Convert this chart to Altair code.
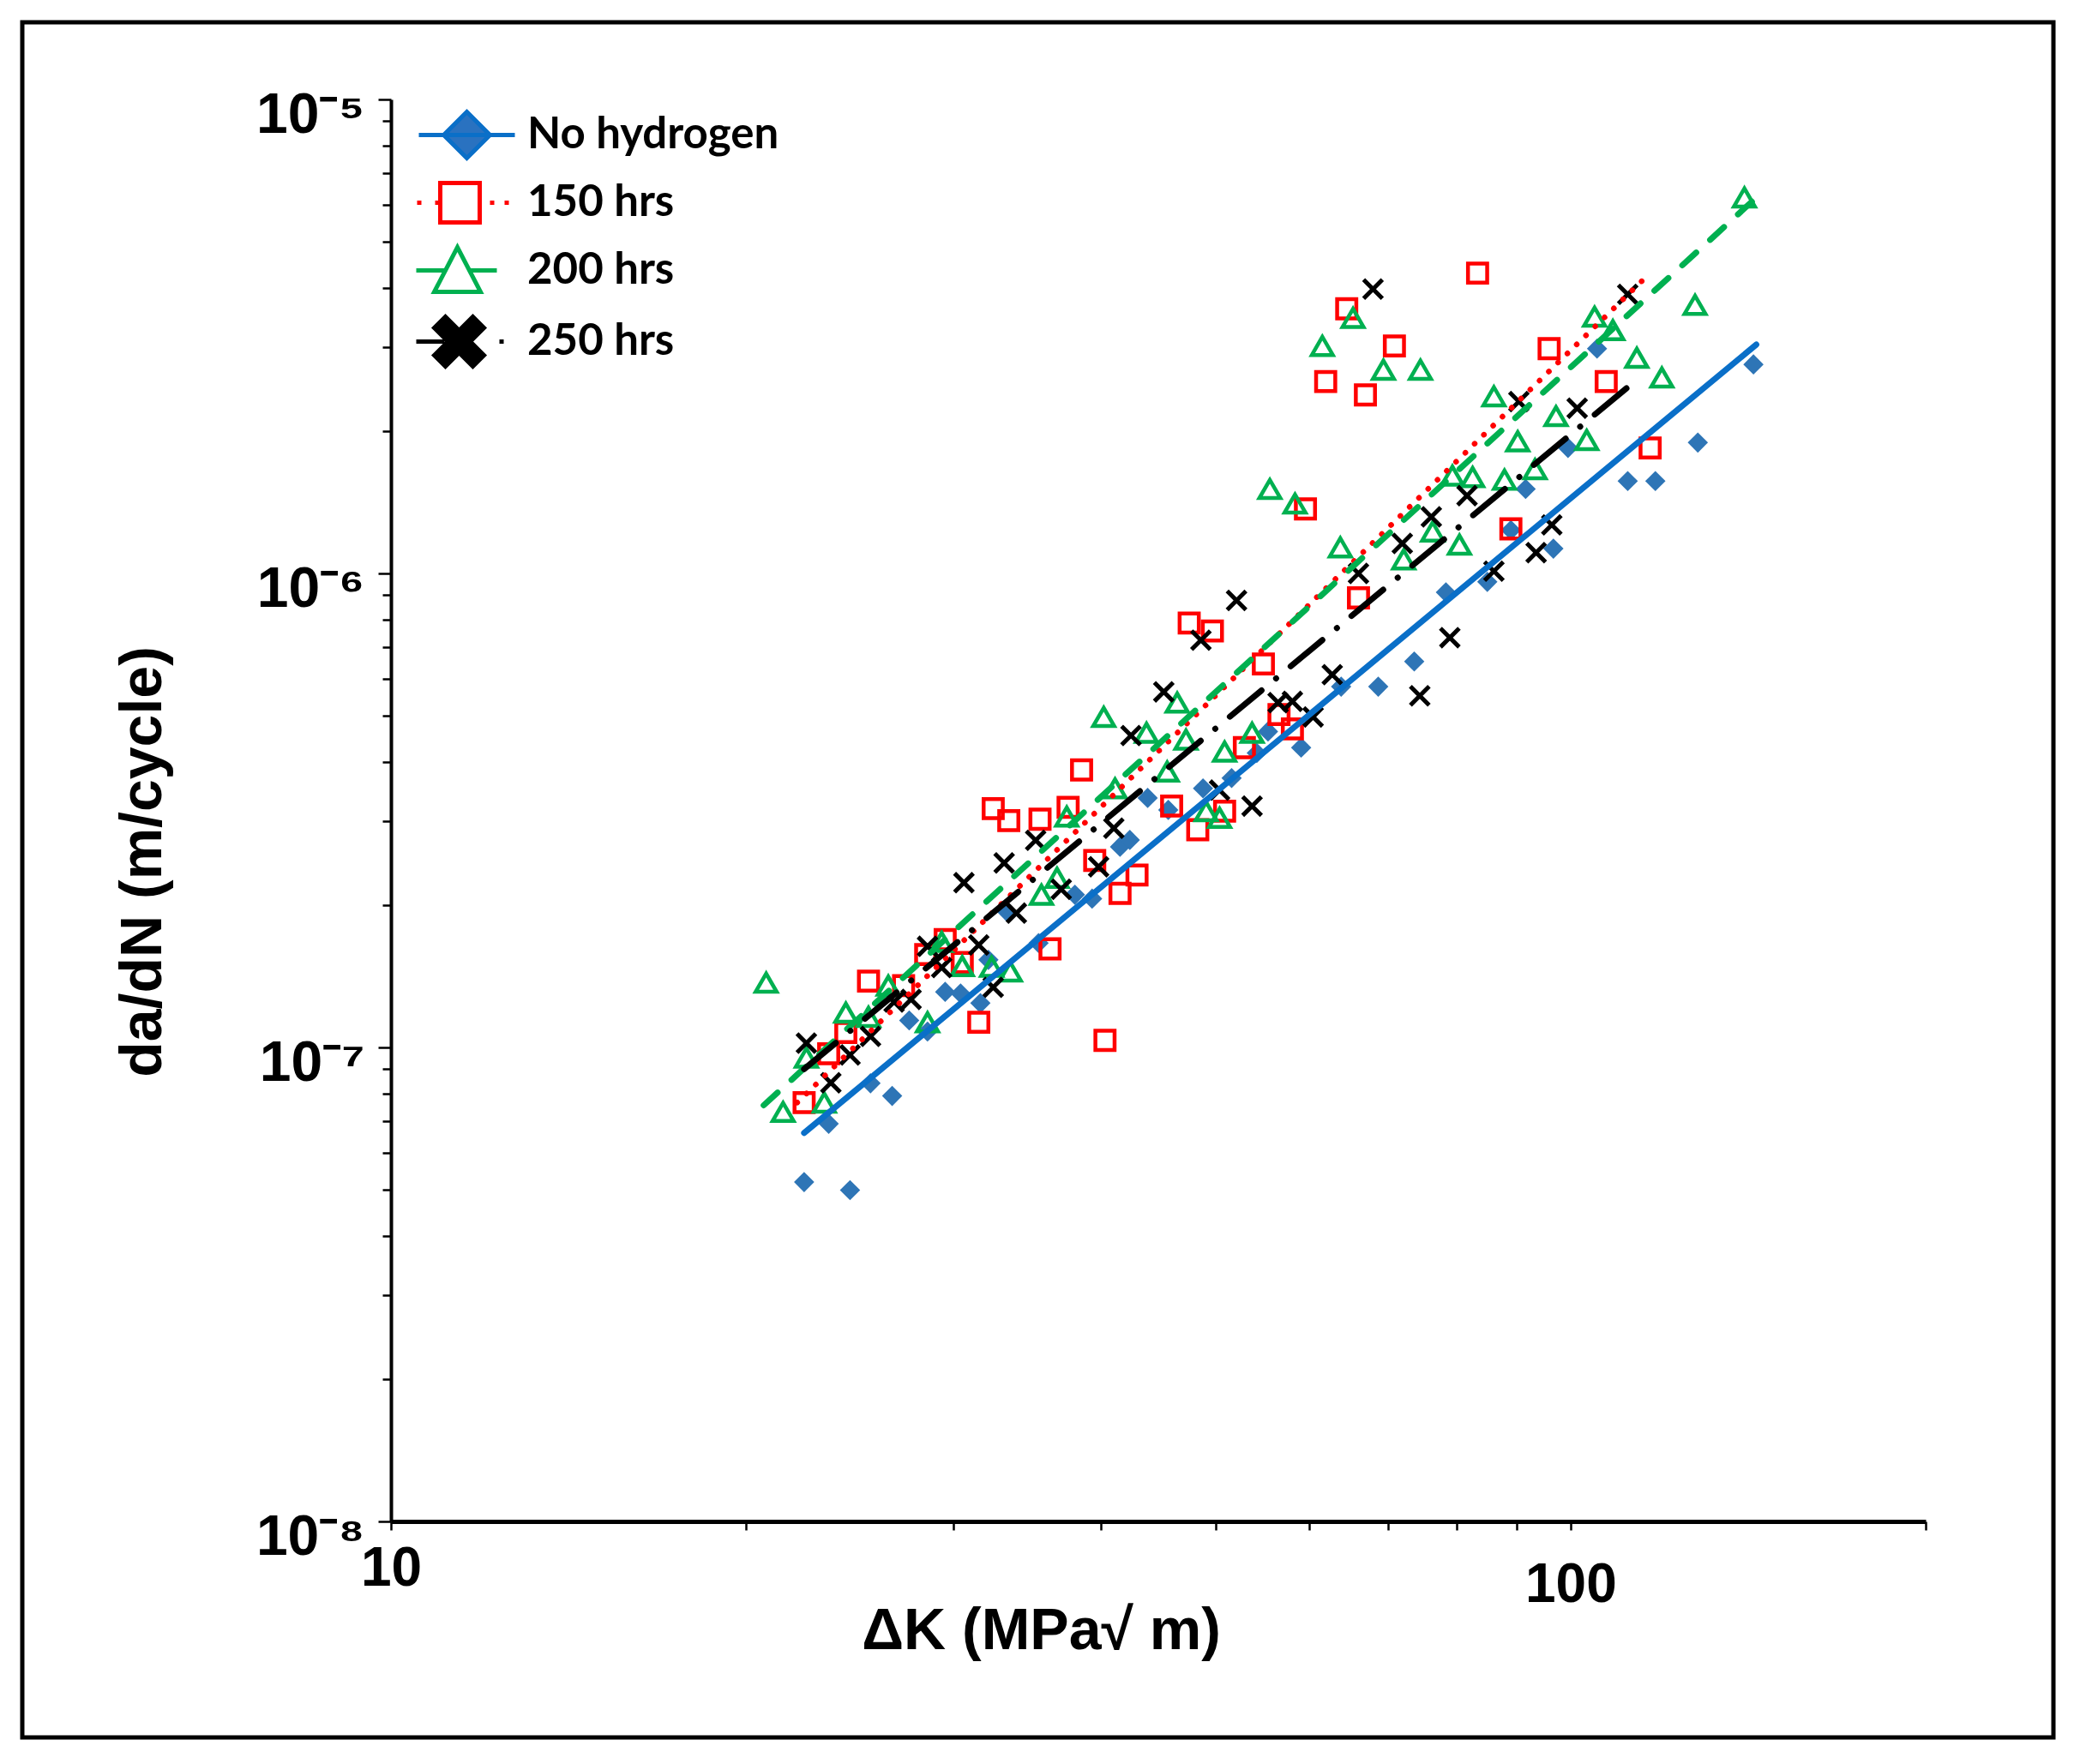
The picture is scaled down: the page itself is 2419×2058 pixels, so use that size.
import altair as alt
import pandas as pd

SERIES = ["No hydrogen", "150 hrs", "200 hrs", "250 hrs"]

# ---- data: dK (MPa*sqrt(m)) and da/dN (m/cycle) ----
nh_dk = [22.4, 24.5, 23.5, 25.5, 26.6, 27.5, 28.5, 29.5, 30.4, 31.6, 32.1, 33.3, 35.4,
         38.0, 39.3, 41.5, 42.3, 43.8, 45.6, 48.8, 51.6, 54.2, 55.4, 59.1, 63.9, 68.7,
         73.7, 78.4, 85.0, 89.0, 91.6, 96.7, 99.5, 105.3, 111.8, 118.0, 128.2, 142.9]
nh_rate = [5.2e-8, 5.0e-8, 6.9e-8, 8.4e-8, 7.9e-8, 1.14e-7, 1.08e-7, 1.31e-7, 1.30e-7,
           1.24e-7, 1.53e-7, 1.93e-7, 1.66e-7, 2.10e-7, 2.06e-7, 2.65e-7, 2.74e-7, 3.36e-7,
           3.17e-7, 3.52e-7, 3.70e-7, 4.18e-7, 4.64e-7, 4.29e-7, 5.77e-7, 5.77e-7, 6.52e-7,
           9.12e-7, 9.60e-7, 1.234e-6, 1.507e-6, 1.128e-6, 1.84e-6, 2.98e-6, 1.566e-6,
           1.566e-6, 1.888e-6, 2.76e-6]

h150_dk = [22.4, 23.5, 24.3, 25.4, 27.2, 28.4, 29.5, 30.5, 31.5, 32.4, 33.4, 35.5, 36.2,
           37.5, 38.5, 39.5, 40.3, 41.5, 42.9, 45.9, 47.5, 48.3, 49.7, 50.9, 52.9, 54.9,
           56.6, 58.1, 59.6, 62.0, 64.6, 66.1, 67.0, 70.9, 83.4, 89.0, 95.9, 107.2, 116.8]
h150_rate = [7.65e-8, 9.7e-8, 1.075e-7, 1.38e-7, 1.35e-7, 1.57e-7, 1.688e-7, 1.51e-7,
             1.13e-7, 3.19e-7, 3.01e-7, 3.03e-7, 1.614e-7, 3.21e-7, 3.85e-7, 2.48e-7,
             1.035e-7, 2.114e-7, 2.31e-7, 3.23e-7, 7.86e-7, 2.88e-7, 7.56e-7, 3.15e-7,
             4.29e-7, 6.44e-7, 5.04e-7, 4.70e-7, 1.368e-6, 2.54e-6, 3.616e-6, 8.88e-7,
             2.38e-6, 3.02e-6, 4.30e-6, 1.242e-6, 2.98e-6, 2.54e-6, 1.84e-6]

h200_dk = [20.8, 21.5, 22.5, 23.3, 24.3, 25.4, 26.4, 28.5, 29.3, 30.5, 32.3, 33.5, 35.6,
           36.7, 37.4, 40.2, 41.1, 43.7, 45.5, 46.4, 47.2, 49.1, 50.4, 50.9, 53.7, 55.6,
           58.4, 61.6, 63.8, 65.4, 69.4, 72.2, 74.6, 76.4, 80.5, 79.4, 82.6, 86.1, 87.9,
           90.2, 93.3, 97.2, 103.2, 104.8, 108.6, 113.8, 119.5, 127.5, 140.4]
h200_rate = [1.37e-7, 7.31e-8, 9.52e-8, 7.65e-8, 1.184e-7, 1.16e-7, 1.35e-7, 1.13e-7,
             1.67e-7, 1.484e-7, 1.48e-7, 1.446e-7, 2.10e-7, 2.28e-7, 3.07e-7, 4.98e-7,
             3.52e-7, 4.61e-7, 3.82e-7, 5.34e-7, 4.46e-7, 3.15e-7, 3.05e-7, 4.21e-7,
             4.61e-7, 1.507e-6, 1.404e-6, 3.02e-6, 1.135e-6, 3.46e-6, 2.69e-6, 1.071e-6,
             2.69e-6, 1.226e-6, 1.15e-6, 1.608e-6, 1.597e-6, 2.365e-6, 1.577e-6, 1.90e-6,
             1.66e-6, 2.147e-6, 1.912e-6, 3.48e-6, 3.26e-6, 2.85e-6, 2.59e-6, 3.687e-6,
             6.21e-6]

h250_dk = [22.5, 23.6, 24.5, 25.5, 26.7, 27.6, 28.5, 29.3, 30.6, 31.5, 32.4, 33.1, 33.9,
           35.2, 37.0, 39.8, 41.0, 42.4, 45.2, 48.6, 50.4, 52.1, 53.7, 56.5, 58.1, 60.5,
           62.8, 66.1, 68.0, 72.0, 74.5, 76.2, 79.0, 81.7, 86.1, 90.4, 93.5, 96.4, 101.3,
           111.8]
h250_rate = [1.021e-7, 8.42e-8, 9.64e-8, 1.055e-7, 1.247e-7, 1.263e-7, 1.634e-7, 1.474e-7,
             2.226e-7, 1.645e-7, 1.339e-7, 2.45e-7, 1.92e-7, 2.735e-7, 2.156e-7, 2.405e-7,
             2.90e-7, 4.55e-7, 5.625e-7, 7.23e-7, 3.49e-7, 8.77e-7, 3.23e-7, 5.34e-7,
             5.37e-7, 4.98e-7, 6.115e-7, 1.0e-6, 3.98e-6, 1.157e-6, 5.52e-7, 1.316e-6,
             7.32e-7, 1.459e-6, 1.011e-6, 2.305e-6, 1.106e-6, 1.266e-6, 2.232e-6, 3.88e-6]

# power-law trend lines: start and end points
nh_fit_dk = [22.4, 143.7]
nh_fit_rate = [6.6e-8, 3.04e-6]
h150_fit_dk = [22.1, 116.2]
h150_fit_rate = [7.65e-8, 4.25e-6]
h200_fit_dk = [20.7, 142.5]
h200_fit_rate = [7.55e-8, 6.09e-6]
h250_fit_dk = [22.4, 111.8]
h250_fit_rate = [9.0e-8, 2.47e-6]

# axis ticks and labels
x_tick_values = [10, 20, 30, 40, 50, 60, 70, 80, 90, 100, 200]
x_tick_labels = {10: "10", 100: "100"}
y_tick_values = [1e-8, 2e-8, 3e-8, 4e-8, 5e-8, 6e-8, 7e-8, 8e-8, 9e-8,
                 1e-7, 2e-7, 3e-7, 4e-7, 5e-7, 6e-7, 7e-7, 8e-7, 9e-7,
                 1e-6, 2e-6, 3e-6, 4e-6, 5e-6, 6e-6, 7e-6, 8e-6, 9e-6, 1e-5]
y_tick_labels = {1e-8: "10⁻⁸", 1e-7: "10⁻⁷", 1e-6: "10⁻⁶", 1e-5: "10⁻⁵"}

# ---- tables ----
series_dk = [nh_dk, h150_dk, h200_dk, h250_dk]
series_rate = [nh_rate, h150_rate, h200_rate, h250_rate]
rows = []
for name, dks, rates in zip(SERIES, series_dk, series_rate):
    for d, r in zip(dks, rates):
        rows.append({"series": name, "dk": d, "rate": r})
points_df = pd.DataFrame(rows)

fit_dk = [nh_fit_dk, h150_fit_dk, h200_fit_dk, h250_fit_dk]
fit_rate = [nh_fit_rate, h150_fit_rate, h200_fit_rate, h250_fit_rate]
frows = []
for name, dks, rates in zip(SERIES, fit_dk, fit_rate):
    for d, r in zip(dks, rates):
        frows.append({"series": name, "dk": d, "rate": r})
fits_df = pd.DataFrame(frows)

FONT = "Liberation Sans, Arial, sans-serif"

x_label_expr = " : ".join(
    f"datum.value == {v} ? '{s}'" for v, s in x_tick_labels.items()) + " : ''"
y_label_expr = " : ".join(
    f"datum.value == {v!r} ? '{s}'" for v, s in y_tick_labels.items()) + " : ''"
y_major = "[" + ",".join(repr(v) for v in y_tick_labels) + "]"

x_enc = alt.X(
    "dk:Q",
    scale=alt.Scale(type="log", domain=[10, 200], nice=False),
    axis=alt.Axis(
        values=x_tick_values, labelExpr=x_label_expr, grid=False,
        tickSize=10, tickWidth=2.5, tickColor="black",
        domainColor="black", domainWidth=5,
        labelFont=FONT, labelFontSize=64, labelFontWeight="bold", labelColor="black",
        labelBaseline="top", labelAlign="center", labelFlush=False, labelOverlap=False,
        labelPadding={"condition": {"test": "datum.value == 100", "value": 32}, "value": 13},
        title="ΔK (MPa√ m)", titleFont=FONT, titleFontSize=68, titleFontWeight="bold",
        titleColor="black", titleX=758, titleY=148, titleAlign="center",
        titleBaseline="alphabetic",
    ),
)
y_enc = alt.Y(
    "rate:Q",
    scale=alt.Scale(type="log", domain=[1e-8, 1e-5], nice=False),
    axis=alt.Axis(
        values=y_tick_values, labelExpr=y_label_expr, grid=False,
        tickSize={"condition": {"test": f"indexof({y_major}, datum.value) >= 0", "value": 15},
                  "value": 10},
        tickWidth=2.5, tickColor="black",
        domainColor="black", domainWidth=4,
        labelFont=FONT, labelFontSize=66, labelFontWeight="bold", labelColor="black",
        labelBaseline="middle", labelFlush=False, labelOverlap=False, labelPadding=16,
        labelOffset=18,
        title="da/dN (m/cycle)", titleFont=FONT, titleFontSize=68, titleFontWeight="bold",
        titleColor="black", titleAngle=270, titleX=-289, titleY=889, titleAlign="center",
        titleBaseline="middle",
    ),
)

# per-series styles
marker_style = {
    "No hydrogen": dict(shape="diamond", filled=True, color="#2E75B6", size=560, strokeWidth=0),
    "150 hrs": dict(shape="square", filled=False, color="#FF0000", size=500, strokeWidth=4.5),
    "200 hrs": dict(shape="triangle-up", filled=False, color="#00B050", size=600, strokeWidth=4.5),
    "250 hrs": dict(shape="M-1,-1L1,1M-1,1L1,-1", filled=False, color="#000000", size=480,
                    strokeWidth=5),
}
line_style = {
    "No hydrogen": dict(color="#0A6FC8", strokeWidth=7),
    "150 hrs": dict(color="#FF0000", strokeWidth=6.5, strokeDash=[0.1, 15]),
    "200 hrs": dict(color="#00B050", strokeWidth=7, strokeDash=[22, 22]),
    "250 hrs": dict(color="#000000", strokeWidth=7, strokeDash=[48, 22, 0.1, 22]),
}
legend_paths = [
    "M-5.6,0H5.6M0,-2.7L2.7,0L0,2.7L-2.7,0Z",
    "M-5.8,0H-5.3M-3.7,0H-3.1M-3.1,-2.3H1.5V2.3H-3.1ZM2.7,0H3.2M4.4,0H4.9",
    "M-5.9,0H-2.5M0.3,0H3.5M-1.1,-2.7L1.6,2.5H-3.8Z",
    "M-5.9,0H-2.6M3.8,0H4.3M-3.8,-1.6L-2.5,-2.9L-0.9,-1.3L0.7,-2.9L2.0,-1.6L0.4,0"
    "L2.0,1.6L0.7,2.9L-0.9,1.3L-2.5,2.9L-3.8,1.6L-2.2,0Z",
]

frame = alt.Chart(pd.DataFrame({"f": [0]})).mark_rect(
    fill="transparent", stroke="black", strokeWidth=5
).encode(x=alt.value(-430), x2=alt.value(1939), y=alt.value(-90), y2=alt.value(1911))

layers = [frame]
for name in SERIES:
    layers.append(
        alt.Chart(points_df).transform_filter(alt.datum.series == name)
        .mark_point(opacity=1, **marker_style[name])
        .encode(x=x_enc, y=y_enc)
    )
for name in SERIES:
    layers.append(
        alt.Chart(fits_df).transform_filter(alt.datum.series == name)
        .mark_line(strokeCap="round", **line_style[name])
        .encode(x=x_enc, y=y_enc)
    )

legend = alt.Legend(
    title=None, orient="none", legendX=63, legendY=16, padding=0,
    symbolSize=400, symbolStrokeWidth=5, symbolOpacity=1,
    labelFont="Lato", labelFontSize=51, labelFontWeight="bold", labelColor="black",
    labelOffset=45, labelLimit=1000, rowPadding=8,
)
legend_layer = alt.Chart(pd.DataFrame({"series": SERIES})).transform_filter("false").mark_point(
    opacity=1
).encode(
    shape=alt.Shape("series:N", scale=alt.Scale(domain=SERIES, range=legend_paths), legend=legend),
    stroke=alt.Stroke("series:N", scale=alt.Scale(
        domain=SERIES, range=["#0A6FC8", "#FF0000", "#00B050", "#000000"]), legend=legend),
    fill=alt.Fill("series:N", scale=alt.Scale(
        domain=SERIES, range=["#2A72C0", "transparent", "transparent", "#000000"]), legend=legend),
)
layers.append(legend_layer)

chart = alt.layer(*layers).properties(
    width=1790, height=1659,
    padding={"left": 448, "top": 108, "right": 160, "bottom": 265},
    autosize=alt.AutoSizeParams(type="none"),
    background="white",
).configure_view(strokeWidth=0)

chart.save("out.html", embed_options={"renderer": "svg", "actions": False})
